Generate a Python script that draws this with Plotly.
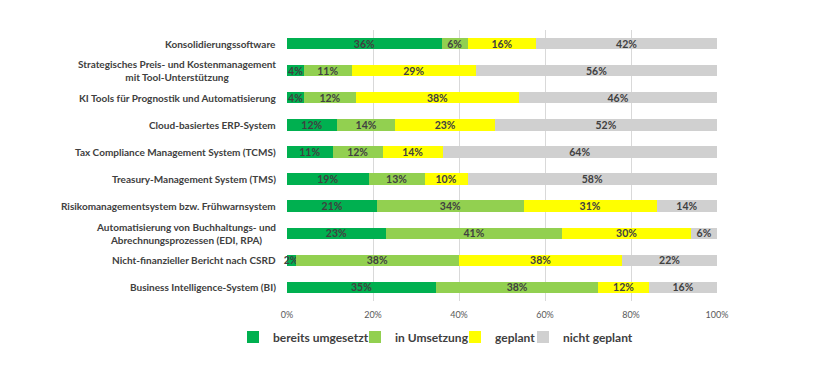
import plotly.graph_objects as go

categories = [
    "Konsolidierungssoftware",
    "Strategisches Preis- und Kostenmanagement<br>mit Tool-Unterstützung",
    "KI Tools für Prognostik und Automatisierung",
    "Cloud-basiertes ERP-System",
    "Tax Compliance Management System (TCMS)",
    "Treasury-Management System (TMS)",
    "Risikomanagementsystem bzw. Frühwarnsystem",
    "Automatisierung von Buchhaltungs- und<br>Abrechnungsprozessen (EDI, RPA)",
    "Nicht-finanzieller Bericht nach CSRD",
    "Business Intelligence-System (BI)",
]

bereits_umgesetzt = [36, 4, 4, 11.6, 10.6, 19, 21, 23, 2, 34.7]
in_umsetzung = [6, 11, 12, 13.6, 11.7, 13, 34, 41, 38, 37.7]
geplant = [16, 29, 38, 23.2, 13.9, 10, 31, 30, 38, 11.8]
nicht_geplant = [42, 56, 46, 51.6, 63.8, 58, 14, 6, 22, 15.8]

series_names = ["bereits umgesetzt", "in Umsetzung", "geplant", "nicht geplant"]
series_values = [bereits_umgesetzt, in_umsetzung, geplant, nicht_geplant]
series_colors = ["#00B050", "#92D050", "#FFFF00", "#D0D0D0"]

tick_vals = [0, 20, 40, 60, 80, 100]
tick_text = ["0%", "20%", "40%", "60%", "80%", "100%"]

FONT = "Lato"
TXT = "#404040"

legend_ids = ["legend", "legend2", "legend3", "legend4"]
legend_text_left_px = [268, 390, 490, 558]

fig = go.Figure()
for name, vals, color, lid in zip(series_names, series_values, series_colors, legend_ids):
    fig.add_trace(go.Bar(
        y=categories, x=vals, name=name, orientation="h",
        marker=dict(color=color, line=dict(width=0)),
        text=[f"{round(v)}%" for v in vals],
        textposition="inside", insidetextanchor="middle", textangle=0,
        textfont=dict(family=FONT, size=10.5, color=TXT, weight="bold"),
        cliponaxis=False, legend=lid,
    ))

for c in categories:
    fig.add_annotation(
        x=0, xref="paper", y=c, yref="y", text=c, showarrow=False,
        xanchor="right", yanchor="middle", align="center", xshift=-9,
        font=dict(family=FONT, size=10, color=TXT, weight="bold"),
    )

legend_common = dict(
    orientation="h", xref="container", yref="container",
    xanchor="left", yanchor="middle", y=1 - 337 / 390,
    font=dict(family=FONT, size=12, color=TXT, weight="bold"),
    bgcolor="rgba(0,0,0,0)", borderwidth=0, itemwidth=30,
)
legends = {}
for lid, px in zip(legend_ids, legend_text_left_px):
    legends[lid] = dict(legend_common, x=(px - 35) / 820)

fig.update_layout(
    width=820, height=390,
    barmode="stack", bargap=0.58,
    margin=dict(l=287, r=103, t=30, b=89, pad=0, autoexpand=False),
    paper_bgcolor="white", plot_bgcolor="white",
    uniformtext=dict(minsize=10.5, mode="show"),
    showlegend=True,
    xaxis=dict(
        range=[0, 100], tickvals=tick_vals, ticktext=tick_text,
        showgrid=True, gridcolor="#D9D9D9", gridwidth=1, zeroline=False,
        showline=False, ticks="", ticklabelstandoff=7,
        tickfont=dict(family=FONT, size=9, color="#595959"),
    ),
    yaxis=dict(
        autorange="reversed", showticklabels=False, showgrid=False,
        zeroline=False, showline=False, ticks="",
    ),
    **legends,
)

fig.write_html(
    "out.html",
    config={"displayModeBar": False},
    post_script="document.body.style.margin='0';document.body.style.padding='0';",
)
